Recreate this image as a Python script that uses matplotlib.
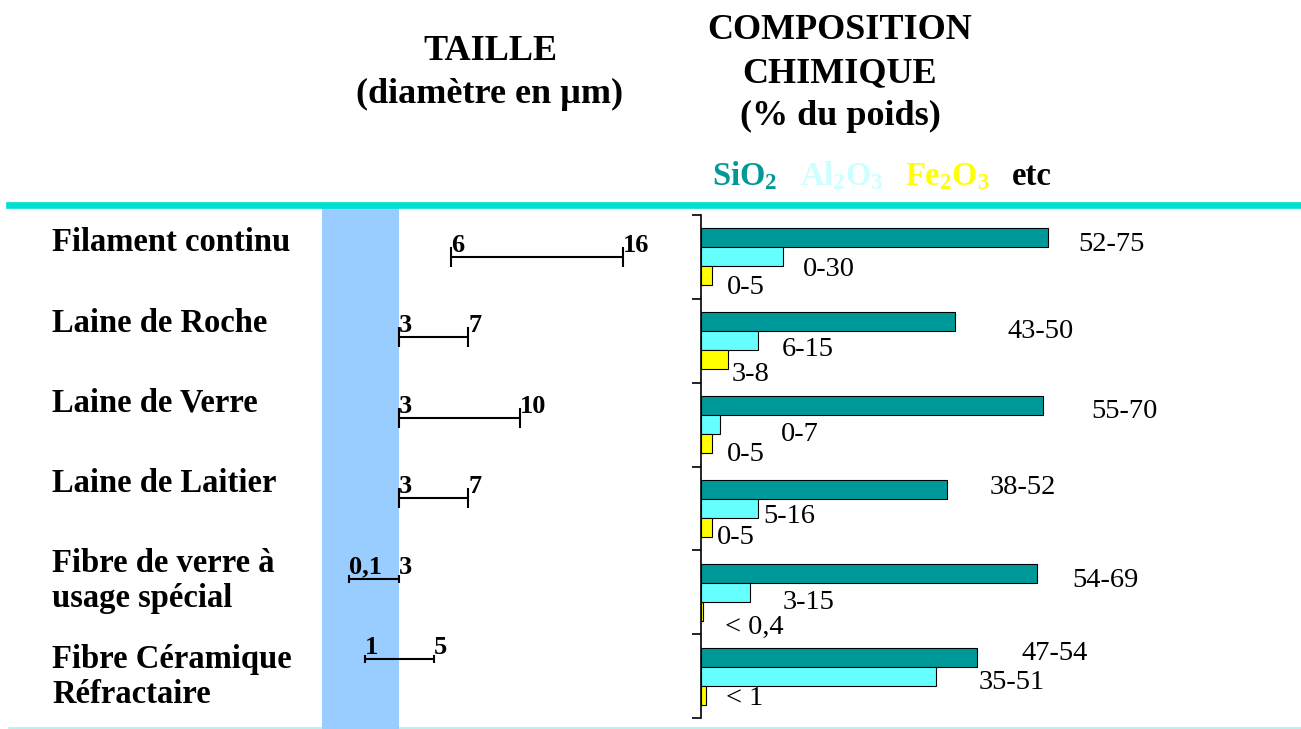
import numpy as np
import matplotlib
matplotlib.use("Agg")
import matplotlib.pyplot as plt
from matplotlib.patches import Rectangle
from matplotlib.lines import Line2D

plt.rcParams['font.family'] = 'Liberation Serif'
plt.rcParams['mathtext.fontset'] = 'custom'
plt.rcParams['mathtext.rm'] = 'Liberation Serif'
plt.rcParams['mathtext.bf'] = 'Liberation Serif:bold'

# ---- data ----
fibres = ['Filament continu', 'Laine de Roche', 'Laine de Verre', 'Laine de Laitier',
          'Fibre de verre à\nusage spécial', 'Fibre Céramique\nRéfractaire']

# taille : diametre en um (min / max)
diam_min = [6, 3, 3, 3, 0.1, 1]
diam_max = [16, 7, 10, 7, 3, 5]
diam_min_lbl = ['6', '3', '3', '3', '0,1', '1']
diam_max_lbl = ['16', '7', '10', '7', '3', '5']

# composition chimique (% du poids)
sio2 = [63.5, 46.5, 62.5, 45, 61.5, 50.5]
al2o3 = [15, 10.5, 3.5, 10.5, 9, 43]
fe2o3 = [2, 5, 2, 2, 0.4, 1]
sio2_lbl = ['52-75', '43-50', '55-70', '38-52', '54-69', '47-54']
al2o3_lbl = ['0-30', '6-15', '0-7', '5-16', '3-15', '35-51']
fe2o3_lbl = ['0-5', '3-8', '0-5', '0-5', '< 0,4', '< 1']

# ---- layout helpers (pixels -> figure fraction) ----
W, H = 1301, 729
PT = 0.72  # points per pixel at dpi 100


def fx(px):
    return px / W


def fy(py):
    return 1 - py / H


def box(l, t, r, b):
    return [fx(l), fy(b), (r - l) / W, (b - t) / H]


fig = plt.figure(figsize=(W / 100, H / 100), dpi=100)

# separators and the blue band (< 3 um)
fig.add_artist(Line2D([fx(9), 1], [fy(728), fy(728)], color='#A8F2EA', lw=1.2, zorder=0))
fig.add_artist(Rectangle((fx(322), 0), (399 - 322) / W, fy(205), transform=fig.transFigure,
                         facecolor='#99CCFF', edgecolor='none', zorder=1))
fig.add_artist(Line2D([fx(9), 1], [fy(205), fy(205)], color='#00E0D0', lw=4.8, zorder=2))

# headers
hdr = dict(fontsize=26, fontweight='bold', ha='center', va='baseline')
fig.text(fx(490), fy(60), 'TAILLE', **hdr)
fig.text(fx(490), fy(103), '(diamètre en µm)', **hdr)
fig.text(fx(840), fy(39), 'COMPOSITION', **hdr)
fig.text(fx(840), fy(82), 'CHIMIQUE', **hdr)
fig.text(fx(840), fy(125), '(% du poids)', **hdr)

leg = dict(fontsize=23.5, ha='left', va='baseline')
fig.text(fx(712), fy(185), r'$\mathbf{SiO_2}$', color='#009999', **leg)
fig.text(fx(800), fy(185), r'$\mathbf{Al_2O_3}$', color='#CCFFFF', **leg)
fig.text(fx(905), fy(185), r'$\mathbf{Fe_2O_3}$', color='#FFFF00', **leg)
fig.text(fx(1012), fy(185), 'etc', fontweight='bold', color='black', **leg)

# row labels
label_y = [243, 323, 403, 483, 581, 677]
for name, yc in zip(fibres, label_y):
    fig.text(fx(52), fy(yc), name, fontsize=23.5, fontweight='bold',
             ha='left', va='center', linespacing=1.2)

rows = np.arange(len(fibres))

# ---- taille (range bars) ----
ax_r = fig.add_axes(box(322, 216.5, 660, 699.5), zorder=3)
ax_r.set_xlim((322 - 347.25) / 17.25, (660 - 347.25) / 17.25)
ax_r.set_ylim(5.5, -0.5)
ax_r.axis('off')
ax_r.patch.set_alpha(0)

cap_px = [10, 10, 10, 10, 4, 4]
row_px = 80.5
ax_r.hlines(rows, diam_min, diam_max, color='black', lw=1.5)
for i in rows:
    c = cap_px[i] / row_px
    ax_r.vlines([diam_min[i], diam_max[i]], i - c, i + c, color='black', lw=1.5)
    ax_r.annotate(diam_min_lbl[i], (diam_min[i], i), xytext=(0, 5 * PT),
                  textcoords='offset points', ha='left', va='baseline',
                  fontsize=19, fontweight='bold')
    ax_r.annotate(diam_max_lbl[i], (diam_max[i], i), xytext=(0, 5 * PT),
                  textcoords='offset points', ha='left', va='baseline',
                  fontsize=19, fontweight='bold')

# ---- composition (horizontal bars) ----
ax_b = fig.add_axes(box(701, 215, 1248, 718), zorder=3)
ax_b.patch.set_alpha(0)
h = 0.226
ax_b.barh(rows - h, sio2, height=h, color='#009999', edgecolor='black', lw=0.8)
ax_b.barh(rows, al2o3, height=h, color='#66FFFF', edgecolor='black', lw=0.8)
ax_b.barh(rows + h, fe2o3, height=h, color='#FFFF00', edgecolor='black', lw=0.8)
ax_b.set_xlim(0, 100)
ax_b.set_ylim(5.5, -0.5)
for s in ['top', 'right', 'bottom']:
    ax_b.spines[s].set_visible(False)
ax_b.spines['left'].set_linewidth(1.2)
ax_b.set_xticks([])
ax_b.set_yticks(np.arange(-0.5, 6, 1))
ax_b.set_yticklabels([])
ax_b.tick_params(axis='y', direction='out', length=6.5, width=1.2)

# label offsets in pixels (right of bar end, down from bar centre)
sio2_dx = [30, 52, 48, 42, 35, 44]
sio2_dy = [7, 10, 6, -2, 7, -4]
al2o3_dx = [20, 23, 61, 5, 32, 42]
al2o3_dy = [13, 9, 10, 8, 10, 6]
fe2o3_dx = [15, 3, 15, 5, 22, 20]
fe2o3_dy = [12, 15, 11, 10, 16, 3]

for vals, lbls, dx, dy, off in [(sio2, sio2_lbl, sio2_dx, sio2_dy, -h),
                                (al2o3, al2o3_lbl, al2o3_dx, al2o3_dy, 0),
                                (fe2o3, fe2o3_lbl, fe2o3_dx, fe2o3_dy, h)]:
    for i in rows:
        ax_b.annotate(lbls[i], (vals[i], i + off), xytext=(dx[i] * PT, -dy[i] * PT),
                      textcoords='offset points', ha='left', va='center', fontsize=20.5)

fig.savefig('out.png', dpi=100)
